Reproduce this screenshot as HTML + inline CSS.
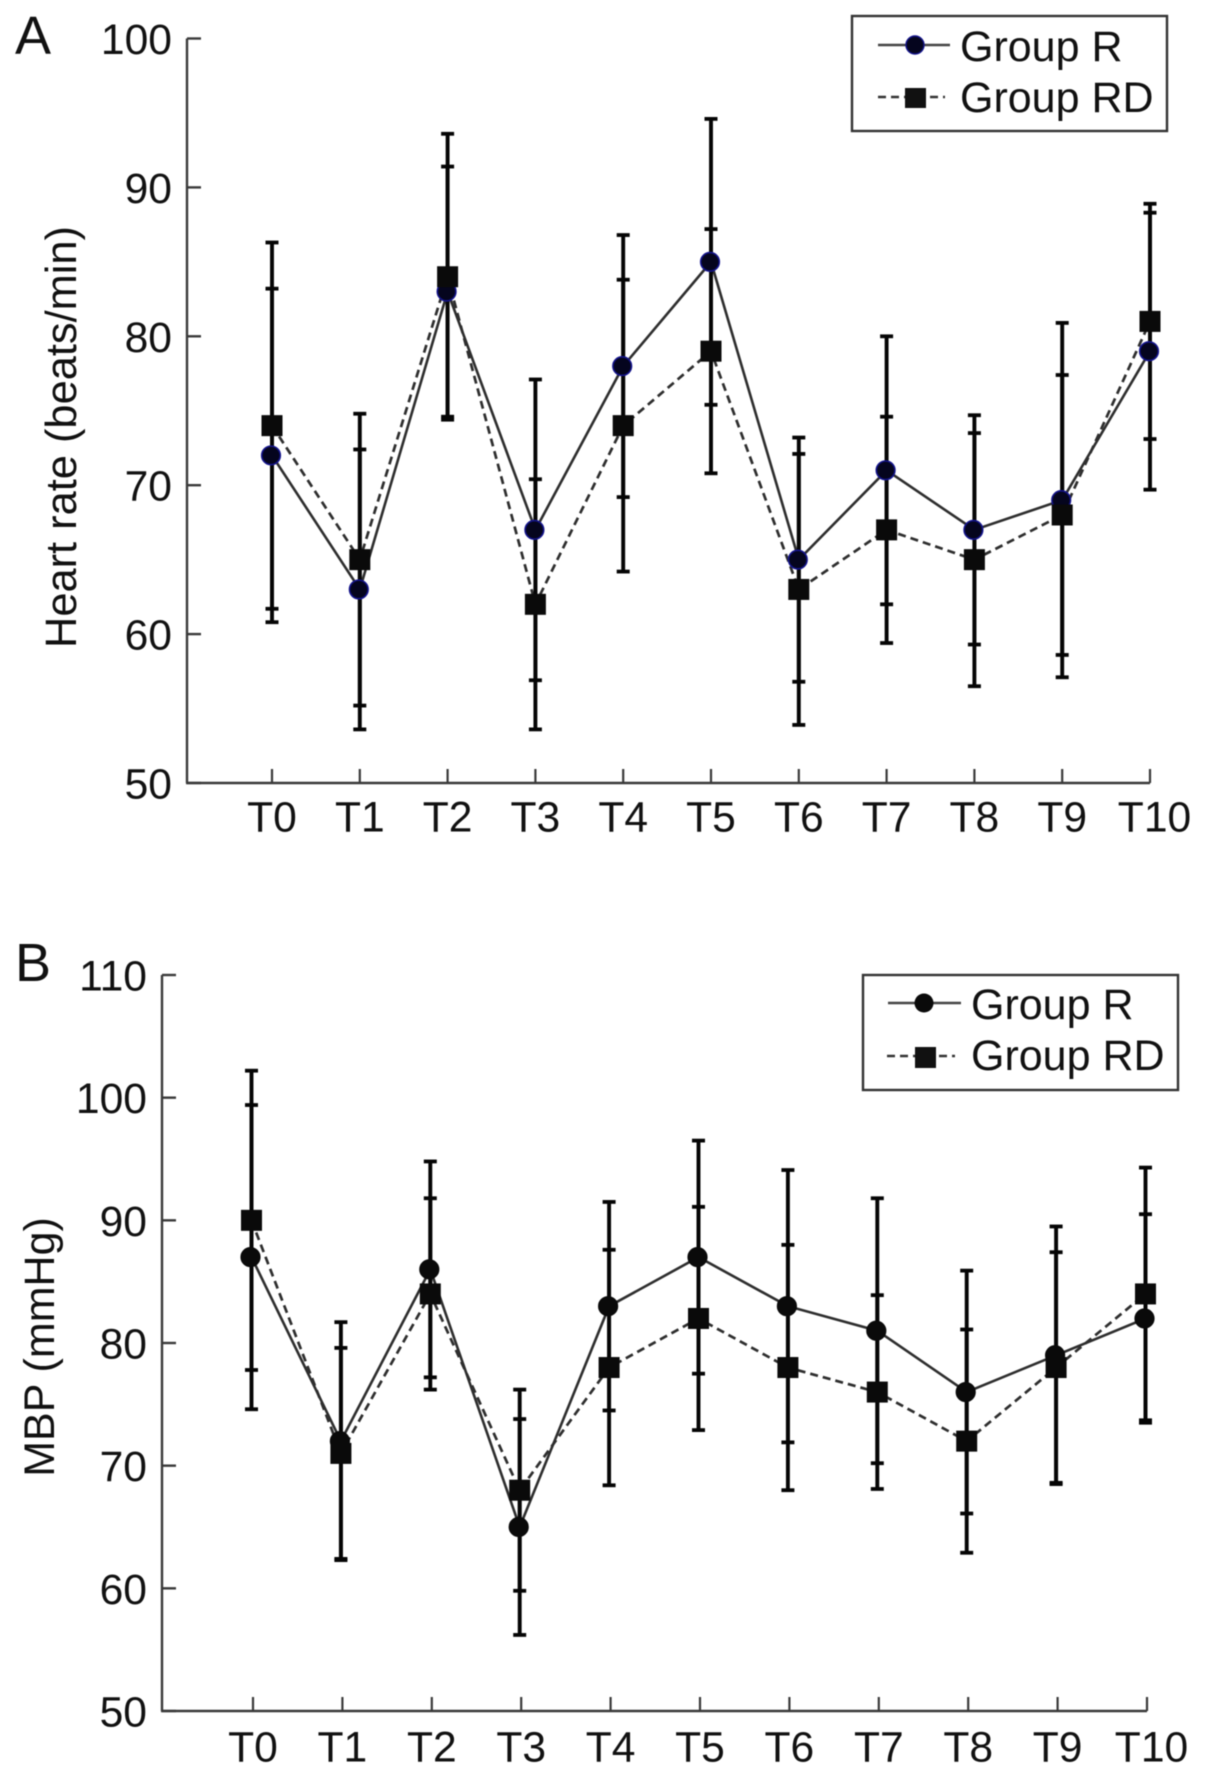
<!DOCTYPE html>
<html lang="en">
<head>
<meta charset="utf-8">
<title>Heart rate and MBP by time point</title>
<style>
  html, body { margin: 0; padding: 0; background: #fff; }
  #figure { display: block; width: 1205px; height: 1778px; filter: blur(0.5px); }
  text { font-family: "Liberation Sans", sans-serif; fill: #111; font-size: 42.6px; }
</style>
</head>
<body>
<svg id="figure" xmlns="http://www.w3.org/2000/svg" width="1205" height="1778" viewBox="0 0 1205 1778">
  <rect x="0" y="0" width="1205" height="1778" fill="#ffffff"/>

  <text x="15" y="54" style="font-size:54px">A</text>
  <text x="15" y="981" style="font-size:54px">B</text>

  <text transform="translate(76 437) rotate(-90)" text-anchor="middle" style="font-size:43.4px">Heart rate (beats/min)</text>
  <text transform="translate(54 1347) rotate(-90)" text-anchor="middle" style="font-size:43px">MBP (mmHg)</text>

  <g id="panel-a"></g>
  <g id="panel-b"></g>

  <g>
    <rect x="852" y="16" width="315" height="115" fill="#fff" stroke="#333" stroke-width="2.4"/>
    <line x1="878" y1="45" x2="950" y2="45" stroke="#444" stroke-width="2.6"/>
    <circle cx="915" cy="45" r="9" fill="#05051e" stroke="#14148c" stroke-width="1.4"/>
    <text x="960" y="61" style="font-size:43px">Group R</text>
    <line x1="878" y1="97" x2="945" y2="97" stroke="#333" stroke-width="2.4" stroke-dasharray="8 5"/>
    <rect x="905" y="88" width="21" height="20" fill="#111"/>
    <text x="960" y="112" style="font-size:43px">Group RD</text>
  </g>

  <g>
    <rect x="863" y="975" width="315" height="115" fill="#fff" stroke="#333" stroke-width="2.4"/>
    <line x1="888" y1="1003" x2="961" y2="1003" stroke="#444" stroke-width="2.6"/>
    <circle cx="924" cy="1003" r="9.5" fill="#0a0a0a"/>
    <text x="971" y="1019" style="font-size:43px">Group R</text>
    <line x1="887" y1="1056" x2="955" y2="1056" stroke="#333" stroke-width="2.4" stroke-dasharray="8 5"/>
    <rect x="915" y="1047" width="21" height="21" fill="#111"/>
    <text x="971" y="1070" style="font-size:43px">Group RD</text>
  </g>
</svg>

<script>
const categories = ['T0', 'T1', 'T2', 'T3', 'T4', 'T5', 'T6', 'T7', 'T8', 'T9', 'T10'];

const heartTicks = [50, 60, 70, 80, 90, 100];
const heartGroupR = [72, 63, 83, 67, 78, 85, 65, 71, 67, 69, 79];
const heartGroupRD = [74, 65, 84, 62, 74, 79, 63, 67, 65, 68, 81];
const heartErrorR = [11.2, 9.4, 8.4, 10.1, 8.8, 9.6, 8.2, 9.0, 7.7, 11.9, 9.3];
const heartErrorRD = [12.3, 9.8, 9.6, 8.4, 9.8, 8.2, 9.1, 7.6, 8.5, 9.4, 7.9];

const mbpTicks = [50, 60, 70, 80, 90, 100, 110];
const mbpGroupR = [87, 72, 86, 65, 83, 87, 83, 81, 76, 79, 82];
const mbpGroupRD = [90, 71, 84, 68, 78, 82, 78, 76, 72, 78, 84];
const mbpErrorR = [12.4, 9.7, 8.8, 8.8, 8.5, 9.5, 11.1, 10.8, 9.9, 10.5, 8.5];
const mbpErrorRD = [12.2, 8.6, 7.8, 8.2, 9.6, 9.1, 10.0, 7.9, 9.1, 9.4, 10.3];

const SVG_NS = 'http://www.w3.org/2000/svg';

function make(tag, parent, attrs) {
  const el = document.createElementNS(SVG_NS, tag);
  for (const key in attrs) {
    el.setAttribute(key, attrs[key]);
  }
  parent.appendChild(el);
  return el;
}

function drawPanel(opts) {
  const root = document.getElementById(opts.id);
  const ticks = opts.ticks;
  const vMin = ticks[0];
  const vMax = ticks[ticks.length - 1];
  const lastIndex = categories.length - 1;
  const xScale = function (i) {
    return opts.x0 + i * (opts.x1 - opts.x0) / lastIndex;
  };
  const yScale = function (v) {
    return opts.yBottom - (v - vMin) * (opts.yBottom - opts.yTop) / (vMax - vMin);
  };

  const yAxis = make('line', root, { x1: opts.axisX, x2: opts.axisX, y1: yScale(vMax), y2: yScale(vMin), stroke: '#3a3a3a', 'stroke-width': 2.4 });
  
  

  const xAxis = make('line', root, { x1: opts.axisX - 1, x2: xScale(lastIndex), y1: yScale(vMin), y2: yScale(vMin), stroke: '#3a3a3a', 'stroke-width': 2.6 });
  
  

  ticks.forEach(function (t) {
    const mark = make('line', root, { x1: opts.axisX, x2: opts.axisX + 14, y1: yScale(t), y2: yScale(t), stroke: '#3a3a3a', 'stroke-width': 2.4 });
    
    
    const label = make('text', root, { x: opts.axisX - 15, y: yScale(t) + 15.5, 'text-anchor': 'end' });
    label.textContent = String(t);
    
    
  });

  categories.forEach(function (c, i) {
    const mark = make('line', root, { x1: xScale(i), x2: xScale(i), y1: yScale(vMin), y2: yScale(vMin) - 14, stroke: '#3a3a3a', 'stroke-width': 2.2 });
    
    
    const labelX = xScale(i) + (i === lastIndex ? 4.5 : 0);
    const label = make('text', root, { x: labelX, y: yScale(vMin) + opts.labelDrop, 'text-anchor': 'middle' });
    label.textContent = c;
    
    
  });

  const dataX = function (i) {
    return xScale(i) + opts.dataShift;
  };

  const pointsOf = function (values) {
    return values.map(function (v, i) {
      return dataX(i) + ',' + yScale(v);
    }).join(' ');
  };

  const lineR = make('polyline', root, { points: pointsOf(opts.r), fill: 'none', stroke: '#2e2e2e', 'stroke-width': 2.6 });
  
  

  const lineRD = make('polyline', root, { points: pointsOf(opts.rd), fill: 'none', stroke: '#2e2e2e', 'stroke-width': 2.7, 'stroke-dasharray': '8 5' });
  
  

  const drawErrors = function (values, errors, series) {
    values.forEach(function (v, i) {
      const x = dataX(i);
      const hi = yScale(v + errors[i]);
      const lo = yScale(v - errors[i]);
      const stem = make('line', root, { x1: x, x2: x, y1: hi, y2: lo, stroke: '#050505', 'stroke-width': 3.9 });
      
      
      const capTop = make('line', root, { x1: x - 6.5, x2: x + 6.5, y1: hi, y2: hi, stroke: '#050505', 'stroke-width': 3.8 });
      
      
      const capLow = make('line', root, { x1: x - 6.5, x2: x + 6.5, y1: lo, y2: lo, stroke: '#050505', 'stroke-width': 3.8 });
      
      
    });
  };
  drawErrors(opts.r, opts.errR, 'group-r');
  drawErrors(opts.rd, opts.errRD, 'group-rd');

  opts.r.forEach(function (v, i) {
    const dot = make('circle', root, { cx: dataX(i) - 1, cy: yScale(v), r: 9.3, fill: opts.dotFill, stroke: opts.dotStroke, 'stroke-width': 1.6 });
    
    
  });

  opts.rd.forEach(function (v, i) {
    const sq = make('rect', root, { x: dataX(i) - 10.5, y: yScale(v) - 10.5, width: 21, height: 21, fill: '#0a0a0a' });
    
    
  });
}

drawPanel({
  id: 'panel-a', prefix: 'heart-rate', ticks: heartTicks,
  r: heartGroupR, rd: heartGroupRD, errR: heartErrorR, errRD: heartErrorRD,
  axisX: 187, x0: 272, x1: 1150, yTop: 38.5, yBottom: 783, labelDrop: 48.5,
  dataShift: 0, dotFill: '#05051e', dotStroke: '#14148c'
});

drawPanel({
  id: 'panel-b', prefix: 'mbp', ticks: mbpTicks,
  r: mbpGroupR, rd: mbpGroupRD, errR: mbpErrorR, errRD: mbpErrorRD,
  axisX: 162, x0: 253, x1: 1147, yTop: 975, yBottom: 1711, labelDrop: 50.5,
  dataShift: -1.5, dotFill: '#0a0a0a', dotStroke: '#0a0a0a'
});
</script>
</body>
</html>
